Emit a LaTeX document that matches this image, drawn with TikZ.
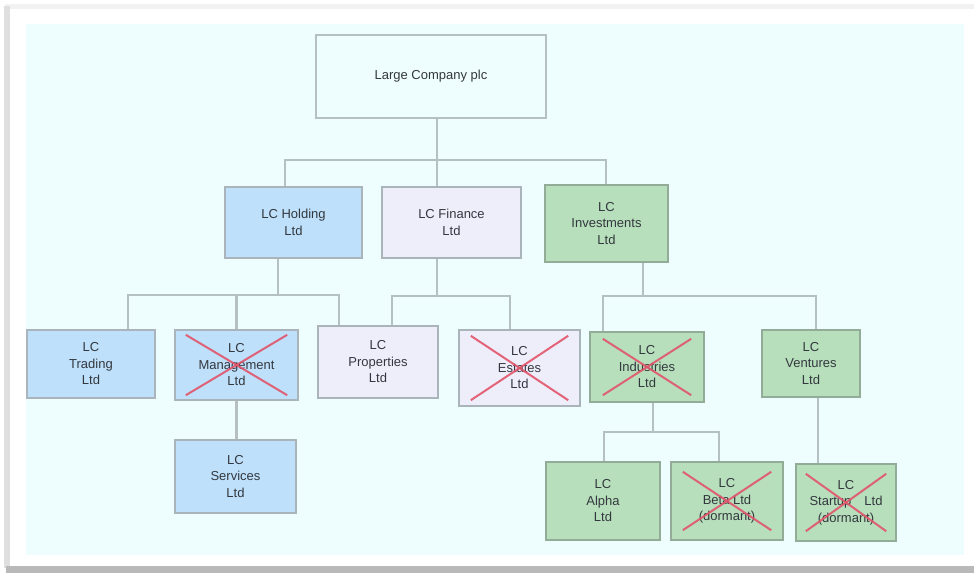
\documentclass[tikz,border=0pt]{standalone}
\usepackage{fontspec}
\setmainfont{Liberation Sans}
\usepackage{tikz}
\usetikzlibrary{positioning}
\definecolor{panelbg}{HTML}{EEFEFE}
\definecolor{holdfill}{HTML}{BEE0FB}
\definecolor{finfill}{HTML}{EEEEFB}
\definecolor{invfill}{HTML}{B7DFBC}
\definecolor{boxline}{HTML}{A9B5BA}
\definecolor{greenline}{HTML}{93AC98}
\definecolor{linkgray}{HTML}{B5C0C2}
\definecolor{crossred}{HTML}{E2546A}
\definecolor{textgray}{HTML}{33383E}
\tikzset{
  co/.style={draw=boxline, line width=2.4pt, align=center, inner sep=0pt,
    text=textgray, font=\fontsize{13}{16.5}\selectfont},
  topco/.style={co, fill=panelbg, draw=linkgray},
  holdco/.style={co, fill=holdfill},
  finco/.style={co, fill=finfill},
  invco/.style={co, fill=invfill, draw=greenline},
  link/.style={draw=linkgray, line width=2.4pt},
  cross/.style={draw=crossred, line width=2pt, opacity=0.9}
}
% strike out a company that has gone
\newcommand{\strikeco}[3]{%
  \draw[cross] ([shift={(#2,#3)}]#1.north west) -- ([shift={(-#2,-#3)}]#1.south east);
  \draw[cross] ([shift={(#2,-#3)}]#1.south west) -- ([shift={(-#2,#3)}]#1.north east);}
\begin{document}
\begin{tikzpicture}[x=1pt,y=-1pt]
  % frame and panel
  \fill[white] (0,0) rectangle (974,573);
  \useasboundingbox (0,0) rectangle (974,573);
  \fill[gray!10] (5,4) rectangle (974,9);
  \fill[gray!25] (4,6) rectangle (10,568);
  \fill[gray!55] (6,566) rectangle (974,573);
  \fill[panelbg] (26,24) rectangle (964,555);

  % companies
  \node[topco, minimum width=230, minimum height=83] (top) at (431,76.5) {Large Company plc};
  \node[holdco, minimum width=137, minimum height=71] (holding) at (293.5,222.5) {LC Holding\\Ltd};
  \node[finco, minimum width=139, minimum height=71] (finance) at (451.5,222.5) {LC Finance\\Ltd};
  \node[invco, minimum width=123, minimum height=77] (investments) at (606.5,223.5) {LC\\Investments\\Ltd};
  \node[holdco, minimum width=128, minimum height=68] (trading) at (91,364) {LC\\Trading\\Ltd};
  \node[holdco, minimum width=123, minimum height=70] (management) at (236.5,365) {LC\\Management\\Ltd};
  \node[finco, minimum width=120, minimum height=72] (properties) at (378,362) {LC\\Properties\\Ltd};
  \node[finco, minimum width=121, minimum height=76] (estates) at (519.5,368) {LC\\Estates\\Ltd};
  \node[invco, minimum width=114, minimum height=70] (industries) at (647,367) {LC\\Industries\\Ltd};
  \node[invco, minimum width=98, minimum height=67] (ventures) at (811,363.5) {LC\\Ventures\\Ltd};
  \node[holdco, minimum width=121, minimum height=73] (services) at (235.5,476.5) {LC\\Services\\Ltd};
  \node[invco, minimum width=114, minimum height=78] (alpha) at (603,501) {LC\\Alpha\\Ltd};
  \node[invco, minimum width=112, minimum height=78] (beta) at (727,501) {LC\\Beta Ltd\\(dormant)};
  \node[invco, minimum width=100, minimum height=77] (startup) at (846,502.5) {LC\\Startup\quad Ltd\\(dormant)};

  % ownership lines
  \coordinate (j1) at (437,160);
  \coordinate (j2) at (278,295);
  \coordinate (j3) at (437,296);
  \coordinate (j4) at (643,296);
  \coordinate (j5) at (653,432);
  \draw[link] ([xshift=6]top.south) -- ([xshift=-14.5]finance.north);
  \draw[link] ([xshift=-8.5]holding.north) |- (j1) -| ([xshift=-0.5]investments.north);
  \draw[link] ([xshift=-15.5]holding.south) -- (j2);
  \draw[link] ([xshift=37]trading.north) |- (j2) -| ([xshift=-39]properties.north);
  \draw[link] (management.north) -- (management.north |- j2);
  \draw[link] ([xshift=-14.5]finance.south) -- (j3);
  \draw[link] ([xshift=14]properties.north) |- (j3) -| ([xshift=-9.5]estates.north);
  \draw[link] ([xshift=36.5]investments.south) -- (j4);
  \draw[link] ([xshift=-44]industries.north) |- (j4) -| ([xshift=5]ventures.north);
  \draw[link] (management.south) -- (management.south |- services.north);
  \draw[link] ([xshift=6]industries.south) -- (j5);
  \draw[link] ([xshift=1]alpha.north) |- (j5) -| ([xshift=-8]beta.north);
  \draw[link] ([xshift=7]ventures.south) -- ([xshift=-28]startup.north);

  % struck out
  \strikeco{management}{12}{6}
  \strikeco{estates}{13}{7}
  \strikeco{industries}{14}{8}
  \strikeco{beta}{13}{11}
  \strikeco{startup}{11}{11}
\end{tikzpicture}
\end{document}
